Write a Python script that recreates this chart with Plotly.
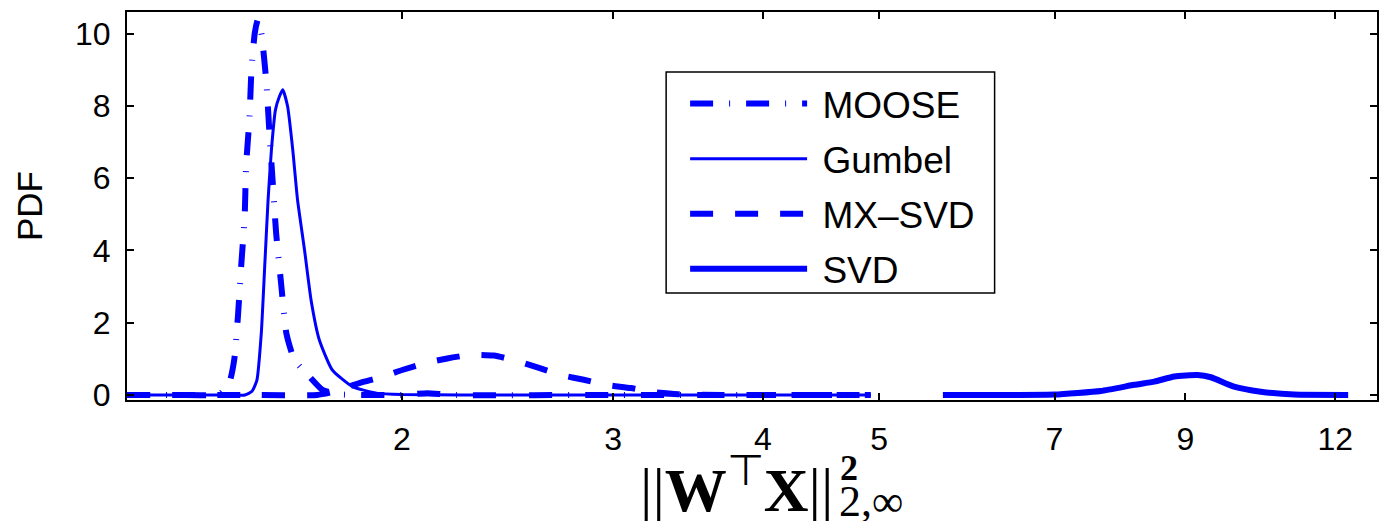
import plotly.graph_objects as go

# ---- data ----
moose_x = [1.18, 1.30, 1.41, 1.437, 1.450, 1.460, 1.469, 1.479, 1.483, 1.493, 1.498, 1.508, 1.517,
           1.527, 1.542, 1.551, 1.561, 1.571, 1.586, 1.602, 1.627, 1.664, 1.717, 1.77, 2.0, 2.1,
           2.2, 3.0, 4.0, 4.92]
moose_y = [0.0, 0.0, 0.03, 0.37, 1.0, 2.17, 3.55, 4.94, 6.32, 7.71, 8.91, 10.02, 10.39,
           10.03, 8.64, 7.26, 5.87, 4.49, 3.10, 1.72, 0.97, 0.61, 0.14, 0.02, 0.0, 0.05,
           0.0, 0.0, 0.0, 0.0]

gumbel_x = [1.18, 1.40, 1.48, 1.50, 1.514, 1.527, 1.537, 1.547, 1.557, 1.569, 1.581, 1.591,
            1.606, 1.622, 1.637, 1.659, 1.680, 1.707, 1.750, 1.819, 1.905, 2.0, 2.5, 3.5, 4.92]
gumbel_y = [0.0, 0.0, 0.0, 0.1, 0.4, 1.71, 3.55, 5.40, 6.79, 7.89, 8.26, 8.45,
            7.99, 6.79, 5.40, 4.02, 2.63, 1.52, 0.69, 0.23, 0.05, 0.01, 0.0, 0.0, 0.0]

mxsvd_x = [1.18, 1.5, 1.70, 1.76, 1.843, 1.926, 2.001, 2.096, 2.182, 2.284, 2.387, 2.494,
           2.602, 2.714, 2.836, 2.958, 3.104, 3.231, 3.4, 3.7, 4.92]
mxsvd_y = [0.0, 0.0, 0.0, 0.1, 0.33, 0.5, 0.69, 0.89, 1.01, 1.11, 1.09, 0.94,
           0.75, 0.55, 0.42, 0.28, 0.19, 0.08, 0.02, 0.0, 0.0]

svd_x = [5.65, 6.5, 7.0, 7.65, 8.16, 8.48, 8.81, 9.21, 9.45, 9.88, 10.40, 11.09, 12.3]
svd_y = [0.0, 0.0, 0.01, 0.11, 0.28, 0.37, 0.51, 0.55, 0.49, 0.23, 0.09, 0.01, 0.0]

x_ticks = [2, 3, 4, 5, 7, 9, 12]
y_ticks = [0, 2, 4, 6, 8, 10]

BLUE = "#0000ff"
FONT = "Liberation Sans"
NB = "\u00a0"

fig = go.Figure()
fig.add_trace(go.Scatter(x=moose_x, y=moose_y, mode="lines", name=NB + "MOOSE", legendgroup="a",
                         line=dict(color=BLUE, width=6, dash="23px,16px,1px,16px",
                                   shape="spline", smoothing=0.5)))
fig.add_trace(go.Scatter(x=gumbel_x, y=gumbel_y, mode="lines", name=NB + "Gumbel", legendgroup="b",
                         line=dict(color=BLUE, width=3, shape="spline", smoothing=0.5)))
fig.add_trace(go.Scatter(x=mxsvd_x, y=mxsvd_y, mode="lines", name=NB + "MX\u2013SVD", legendgroup="c",
                         line=dict(color=BLUE, width=6, dash="23px,22px",
                                   shape="spline", smoothing=0.5)))
fig.add_trace(go.Scatter(x=svd_x, y=svd_y, mode="lines", name=NB + "SVD", legendgroup="d",
                         line=dict(color=BLUE, width=6, shape="spline", smoothing=0.5)))

L, R, T, B = 127, 1379, 12, 400
W, H = 1380, 521

def px(xp):
    return (xp - L) / (R - L)

def py(yp):
    return (B - yp) / (B - T)

fig.update_layout(
    width=W, height=H,
    margin=dict(l=L, r=W - R, t=T, b=H - B, pad=0),
    paper_bgcolor="white", plot_bgcolor="white",
    font=dict(family=FONT, size=32, color="black"),
    showlegend=True,
    legend=dict(x=px(686), y=py(73), xanchor="left", yanchor="top",
                bgcolor="rgba(0,0,0,0)", borderwidth=0,
                font=dict(family=FONT, size=37, color="black"),
                itemwidth=117, tracegroupgap=4),
    shapes=[dict(type="rect", xref="paper", yref="paper",
                 x0=px(667), x1=px(996), y0=py(293), y1=py(72),
                 line=dict(color="black", width=1.5), fillcolor="white", layer="below")],
)
fig.update_xaxes(type="log", range=[0.07188, 1.11394], tickvals=x_ticks,
                 ticktext=[str(v) for v in x_ticks],
                 showline=True, linecolor="black", linewidth=2, mirror="ticks",
                 ticks="inside", ticklen=7, tickwidth=1.5, tickcolor="black",
                 showgrid=False, zeroline=False, ticklabelstandoff=10,
                 tickfont=dict(family=FONT, size=32))
fig.update_yaxes(range=[-0.14, 10.6], tickvals=y_ticks,
                 showline=True, linecolor="black", linewidth=2, mirror="ticks",
                 ticks="inside", ticklen=7, tickwidth=1.5, tickcolor="black",
                 showgrid=False, zeroline=False, ticklabelstandoff=8,
                 tickfont=dict(family=FONT, size=32),
                 title=dict(text="PDF", font=dict(family=FONT, size=35), standoff=22))

SERIF = "Liberation Serif"
fig.add_annotation(xref="paper", yref="paper", x=px(836), y=py(526), xanchor="right", yanchor="bottom",
                   text="||<b>W</b><sup>\u22a4</sup><b>X</b>||", showarrow=False,
                   font=dict(family=SERIF, size=62, color="black"))
fig.add_annotation(xref="paper", yref="paper", x=px(839), y=py(446), xanchor="left", yanchor="top",
                   text="<b>2</b>", showarrow=False, font=dict(family=SERIF, size=36, color="black"))
fig.add_annotation(xref="paper", yref="paper", x=px(838), y=py(528), xanchor="left", yanchor="bottom",
                   text="2,\u221e", showarrow=False, font=dict(family=SERIF, size=44, color="black"))

fig.write_html("out.html")
